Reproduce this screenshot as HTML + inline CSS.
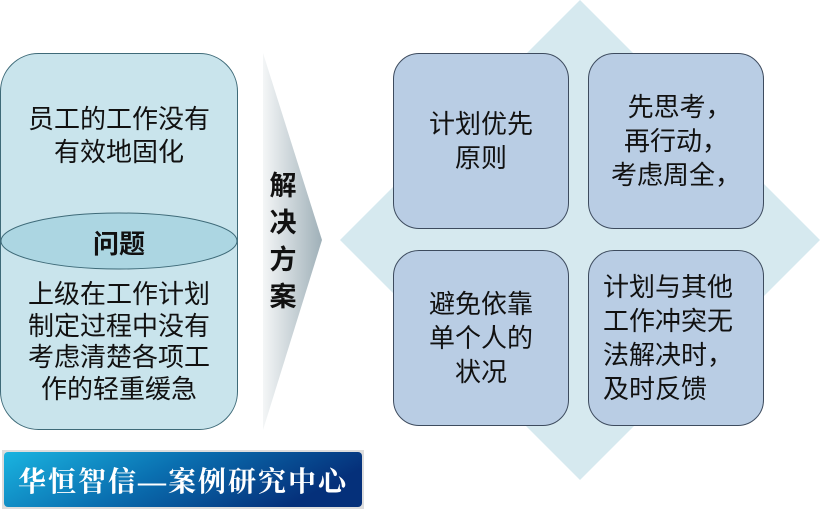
<html><head><style>
body{margin:0;width:820px;height:512px;background:#fff;position:relative;overflow:hidden;font-family:"Liberation Sans","Noto Sans CJK SC",sans-serif;}
.a{position:absolute}
.sq{position:absolute;width:176px;height:176px;background:#b9cde4;border:1px solid #3d4b5e;border-radius:26px;font-size:26px;color:#111;line-height:34px;box-sizing:border-box;display:flex;align-items:center;}
</style></head><body>
<svg class="a" style="left:0;top:0" width="820" height="512">
<defs><linearGradient id="g" x1="0" x2="1"><stop offset="0" stop-color="#f4f6f7"/><stop offset="1" stop-color="#9fb0b8"/></linearGradient>
<linearGradient id="b" x1="0" x2="1" y1="0" y2="0.3"><stop offset="0" stop-color="#1ab4e0"/><stop offset="0.5" stop-color="#0a6fb0"/><stop offset="1" stop-color="#05307a"/></linearGradient></defs>
<polygon points="580,0 820,240 580,480 340,240" fill="#d6e9ef"/>
<rect x="0.5" y="53.5" width="237" height="376" rx="38" fill="#c9e4ec" stroke="#3e6a78"/>
<ellipse cx="119" cy="241" rx="118" ry="28" fill="#acd6e2" stroke="#3e6a78"/>
<polygon points="263,53 322,240 263,430" fill="url(#g)"/>
<rect x="2" y="450" width="362" height="59" fill="#ddd"/>
<rect x="4" y="452" width="358" height="55" rx="4" fill="url(#b)"/>
</svg>
<div class="a" style="left:0;width:238px;top:103px;text-align:center;font-size:26px;line-height:33px;color:#111">员工的工作没有<br>有效地固化</div>
<div class="a" style="left:0;width:238px;top:224px;text-align:center;font-size:26px;font-weight:bold;color:#111">问题</div>
<div class="a" style="left:0;width:238px;top:279px;text-align:center;font-size:26px;line-height:31.5px;color:#111">上级在工作计划<br>制定过程中没有<br>考虑清楚各项工<br>作的轻重缓急</div>
<div class="a" style="left:265px;top:168px;width:36px;font-size:27px;font-weight:bold;line-height:37px;color:#111;text-align:center">解<br>决<br>方<br>案</div>
<div class="sq" style="left:393px;top:53px;justify-content:center;text-align:center">计划优先<br>原则</div>
<div class="sq" style="left:588px;top:53px;justify-content:center;text-align:center">&nbsp;先思考，<br>再行动，<br>考虑周全，</div>
<div class="sq" style="left:393px;top:250px;justify-content:center;text-align:center">避免依靠<br>单个人的<br>状况</div>
<div class="sq" style="left:588px;top:250px;padding-left:14px">计划与其他<br>工作冲突无<br>法解决时，<br>及时反馈</div>
<div class="a" style="left:4px;width:358px;top:460px;text-align:center;font-size:28px;font-weight:bold;color:#fff;font-family:'Liberation Serif','Noto Serif CJK SC',serif;letter-spacing:2px">华恒智信—案例研究中心</div>
</body></html>
